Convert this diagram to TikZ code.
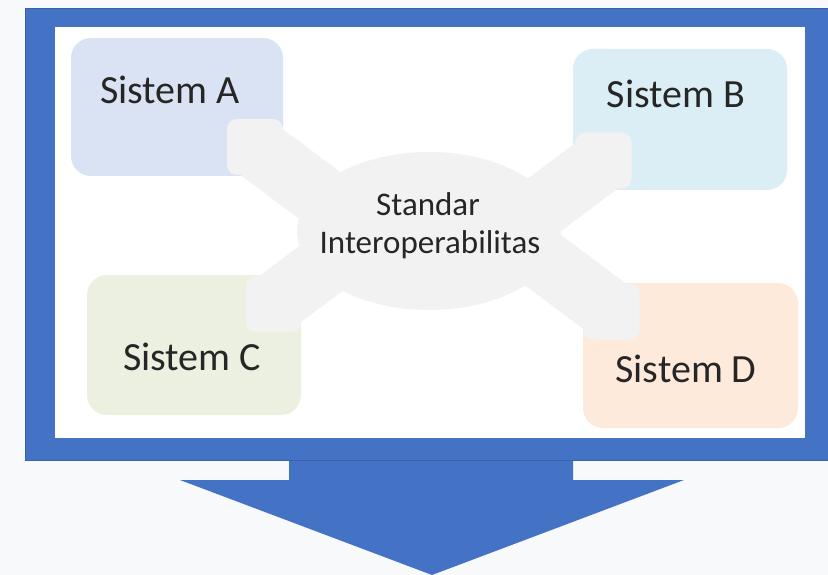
\documentclass[tikz,border=0pt]{standalone}
\usepackage{fontspec}
\setmainfont{Carlito}
\usepackage{tikz}
\usetikzlibrary{positioning,shapes.geometric}
\definecolor{frameblue}{HTML}{4472C4}
\definecolor{boxa}{HTML}{DAE3F3}
\definecolor{boxb}{HTML}{DCEEF5}
\definecolor{boxc}{HTML}{EBF0E0}
\definecolor{boxd}{HTML}{FDEADB}
\definecolor{hubgray}{HTML}{F2F2F2}
\definecolor{bggray}{RGB}{248,249,251}

\begin{document}
\begin{tikzpicture}[x=1pt,y=-1pt,inner sep=0pt]
\tikzstyle{sys}=[rectangle, rounded corners=20pt]
\tikzstyle{syslabel}=[anchor=base, text=black!85, font=\fontsize{40}{48}\selectfont]
\tikzstyle{hubtext}=[anchor=base, text=black!85, font=\fontsize{33}{39}\selectfont]
\tikzstyle{arm}=[line width=62pt, draw=hubgray]
\tikzstyle{pad}=[rectangle, rounded corners=10pt, fill=hubgray, minimum size=56pt]
\useasboundingbox (0,0) rectangle (828,575);
\fill[bggray] (0,0) rectangle (828,575);

% monitor frame and arrow
\fill[frameblue] (289,455) -- (573,455) -- (573,480) -- (684,480) -- (432,575) -- (180,480) -- (289,480) -- cycle;
\fill[frameblue, draw=frameblue!85!black, line width=0.6pt] (25,8) rectangle (829,460);
\fill[white] (55,27) rectangle (805,438);

% systems
\node[sys, fill=boxa, minimum width=212pt, minimum height=138pt] (sysa) at (177,107) {};
\node[sys, fill=boxb, minimum width=214pt, minimum height=141pt] (sysb) at (680,119.5) {};
\node[sys, fill=boxc, minimum width=214pt, minimum height=140pt] (sysc) at (194,345) {};
\node[sys, fill=boxd, minimum width=215pt, minimum height=145pt] (sysd) at (690.5,355.5) {};

% hub with arms
\node[pad] (pa) at (255,147) {};
\node[pad] (pb) at (603.5,160.5) {};
\node[pad] (pc) at (273.5,304) {};
\node[pad] (pd) at (611.5,311.5) {};
\coordinate (ua) at (355,222);
\coordinate (ub) at (503.5,235.5);
\coordinate (uc) at (373.5,229);
\coordinate (ud) at (511.5,236.5);
\draw[arm] (pa.center) -- (ua);
\draw[arm] (pb.center) -- (ub);
\draw[arm] (pc.center) -- (uc);
\draw[arm] (pd.center) -- (ud);
\node[ellipse, fill=hubgray, minimum width=264pt, minimum height=158pt] (hub) at (429,231) {};

% texts
\node[syslabel] (ta) at (170,104) {Sistem A};
\node[syslabel] (tb) at (676,108) {Sistem B};
\node[syslabel] (tc) at (192,370) {Sistem C};
\node[syslabel] (td) at (686,382) {Sistem D};
\node[hubtext] (hta) at (428,215) {Standar};
\node[hubtext] (htb) at (430,254) {Interoperabilitas};
\end{tikzpicture}
\end{document}
